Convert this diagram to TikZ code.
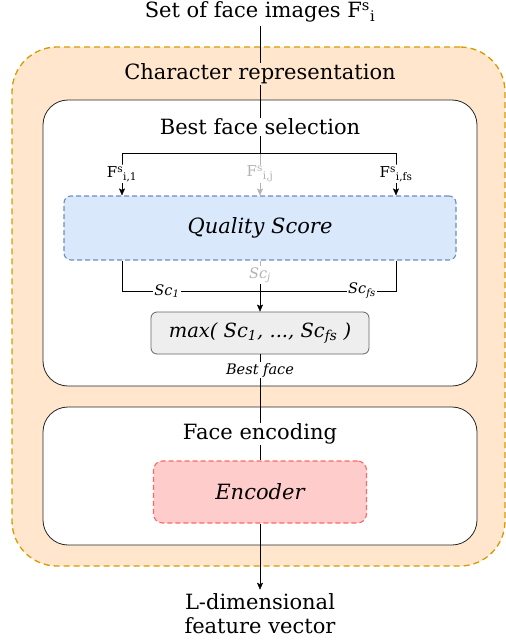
\documentclass[tikz,border=0pt]{standalone}
\usepackage{fontspec}
\setmainfont{DejaVu Serif}
\usetikzlibrary{positioning,arrows.meta}

\definecolor{reprfill}{HTML}{FFE6CC}
\definecolor{reprdraw}{HTML}{D79B00}
\definecolor{qualfill}{HTML}{DAE8FC}
\definecolor{qualdraw}{HTML}{6C8EBF}
\definecolor{encfill}{HTML}{FFCCCC}
\definecolor{encdraw}{HTML}{FF6666}
\definecolor{maxfill}{HTML}{EEEEEE}
\definecolor{maxdraw}{HTML}{666666}
\definecolor{faded}{HTML}{B3B3B3}

\begin{document}
\begin{tikzpicture}[x=1pt, y=-1pt,
    font=\fontsize{21}{24}\selectfont,
    tip/.style={-{Stealth[length=7pt,width=6pt,inset=1.5pt]}},
    stage/.style={draw=black!85, fill=white, line width=0.8pt, rounded corners=25pt,
        inner sep=0pt, minimum width=434pt},
    dashbox/.style={dashed, dash pattern=on 5pt off 3pt, line width=1.1pt,
        rounded corners=7pt, inner sep=0pt},
    tag/.style={fill=white, inner sep=1pt, font=\fontsize{15}{17}\selectfont},
    sctag/.style={tag, font=\fontsize{14.5}{16}\selectfont\itshape}]

    \useasboundingbox (0,0) rectangle (506,640);

    % Character representation
    \node[draw=reprdraw, fill=reprfill, dashed, dash pattern=on 6pt off 4pt,
        line width=1.3pt, rounded corners=45pt, inner sep=0pt,
        minimum width=493pt, minimum height=519pt] (repr) at (258.5,306.5) {};

    % Stages
    \node[stage, minimum height=286pt] (select) at (260,243) {};
    \node[stage, minimum height=138pt] (encode) at (260,476) {};

    % Inner boxes
    \node[dashbox, draw=qualdraw, fill=qualfill, minimum width=392pt,
        minimum height=64pt] (quality) at (260,228) {\itshape Quality Score};
    \node[draw=maxdraw, fill=maxfill, line width=0.8pt, rounded corners=6pt,
        inner sep=0pt, minimum width=218pt, minimum height=42pt,
        font=\fontsize{19.5}{22}\selectfont\itshape] (maxsc) at (260,333)
        {max( Sc\textsubscript{1}, ..., Sc\textsubscript{fs} )};
    \node[dashbox, draw=encdraw, fill=encfill, rounded corners=9pt, minimum width=213pt,
        minimum height=62pt] (enc) at (260,492) {\itshape Encoder};

    % Input and output
    \node (title) at (260,12) {Set of face images F\textsuperscript{s}\textsubscript{i}};
    \node[align=center, inner sep=0pt] (out) at (260,614) {L-dimensional\\feature vector};

    % Connectors
    \coordinate (split) at (260,153);
    \coordinate (merge) at (260,291);
    \coordinate (f1) at (122,174);
    \coordinate (fj) at (260,174);
    \coordinate (ffs) at (396,174);
    \coordinate (sc1) at (167,291);
    \coordinate (scj) at (260,275);
    \coordinate (scfs) at (362,291);
    \coordinate (best) at (260,370);

    \draw (title.south) -- (split);
    \draw[tip] (split) -| (f1) -- (f1 |- quality.north);
    \draw[tip, faded] (split) -- (quality.north);
    \draw[tip] (split) -| (ffs) -- (ffs |- quality.north);

    \draw (quality.south -| f1) |- (merge);
    \draw (quality.south -| ffs) |- (merge);
    \draw[faded] (quality.south) -- (scj);
    \draw[tip] (scj) -- (maxsc.north);

    \draw (maxsc.south) -- (enc.north);
    \draw[tip] (enc.south) -- ([yshift=4pt]out.north);

    % Titles and labels
    \node[fill=reprfill, inner sep=1pt] (reprtitle) at (260,74) {Character representation};
    \node[fill=white, inner sep=1pt] (seltitle) at (260,127) {Best face selection};
    \node[fill=white, inner sep=1pt] (enctitle) at (260,434) {Face encoding};

    \node[tag] (f1lab) at (f1) {F\textsuperscript{s}\textsubscript{i,1}};
    \node[tag, text=faded] (fjlab) at (fj) {F\textsuperscript{s}\textsubscript{i,j}};
    \node[tag] (ffslab) at (ffs) {F\textsuperscript{s}\textsubscript{i,fs}};
    \node[sctag] (sc1lab) at (sc1) {Sc\textsubscript{1}};
    \node[sctag, text=faded] (scjlab) at (scj) {Sc\textsubscript{j}};
    \node[sctag] (scfslab) at (scfs) {Sc\textsubscript{fs}};
    \node[tag, font=\fontsize{14.5}{16}\selectfont\itshape] (bestlab) at (best) {Best face};
\end{tikzpicture}
\end{document}
